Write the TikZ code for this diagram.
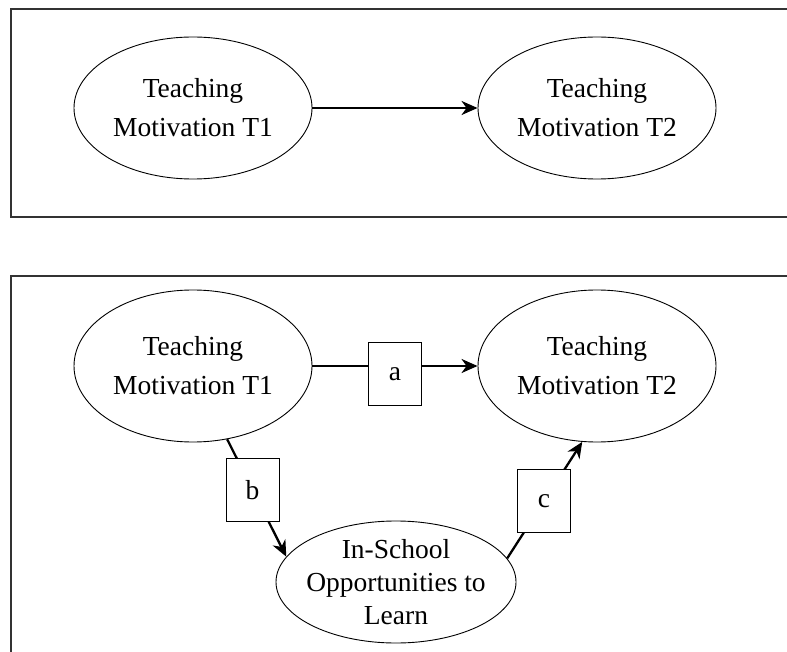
\documentclass[tikz,border=0pt]{standalone}
\usepackage{fontspec}
\setmainfont{Liberation Serif}
\usetikzlibrary{shapes.geometric,arrows.meta}

\begin{document}
\begin{tikzpicture}[x=1pt, y=-1pt,
    construct/.style={ellipse, draw, line width=0.9pt, inner sep=0pt, align=center,
        minimum width=238pt, font=\fontsize{27.5}{39}\selectfont},
    coef/.style={draw, line width=1pt, fill=white, minimum width=53pt, minimum height=63pt,
        font=\fontsize{27.5}{33}\selectfont},
    effect/.style={line width=2.3pt, -{Stealth[length=16pt, width=14pt, inset=5pt]}},
    frame/.style={line width=1.5pt, draw=black!80}]
  \useasboundingbox (0,0) rectangle (787,652);

  % Add frames
  \draw[frame] (787,9) -- (11,9) -- (11,217) -- (787,217);
  \draw[frame] (787,276) -- (11,276) -- (11,652);

  % Draw the direct model
  \node[construct, minimum height=142pt] (t1top) at (193,108) {Teaching\\Motivation T1};
  \node[construct, minimum height=142pt] (t2top) at (597,108) {Teaching\\Motivation T2};
  \draw[effect] (t1top) -- (t2top);

  % Draw the mediation model
  \node[construct, minimum height=152pt] (t1) at (193,366) {Teaching\\Motivation T1};
  \node[construct, minimum height=152pt] (t2) at (597,366) {Teaching\\Motivation T2};
  \node[construct, minimum width=240pt, minimum height=122pt, inner xsep=-8pt, inner ysep=-4pt,
      font=\fontsize{27.5}{33}\selectfont] (otl) at (396,582) {In-School\\Opportunities to\\Learn};

  % Add paths with coefficients
  \draw[effect] (t1) -- node[coef, pos=0.5, yshift=-8pt] (a) {a} (t2);
  \draw[effect] (t1.-65) -- node[coef, pos=0.43] (b) {b} (otl.167);
  \draw[effect] (otl.12) -- node[coef, pos=0.49] (c) {c} (t2.-101);

\end{tikzpicture}
\end{document}
